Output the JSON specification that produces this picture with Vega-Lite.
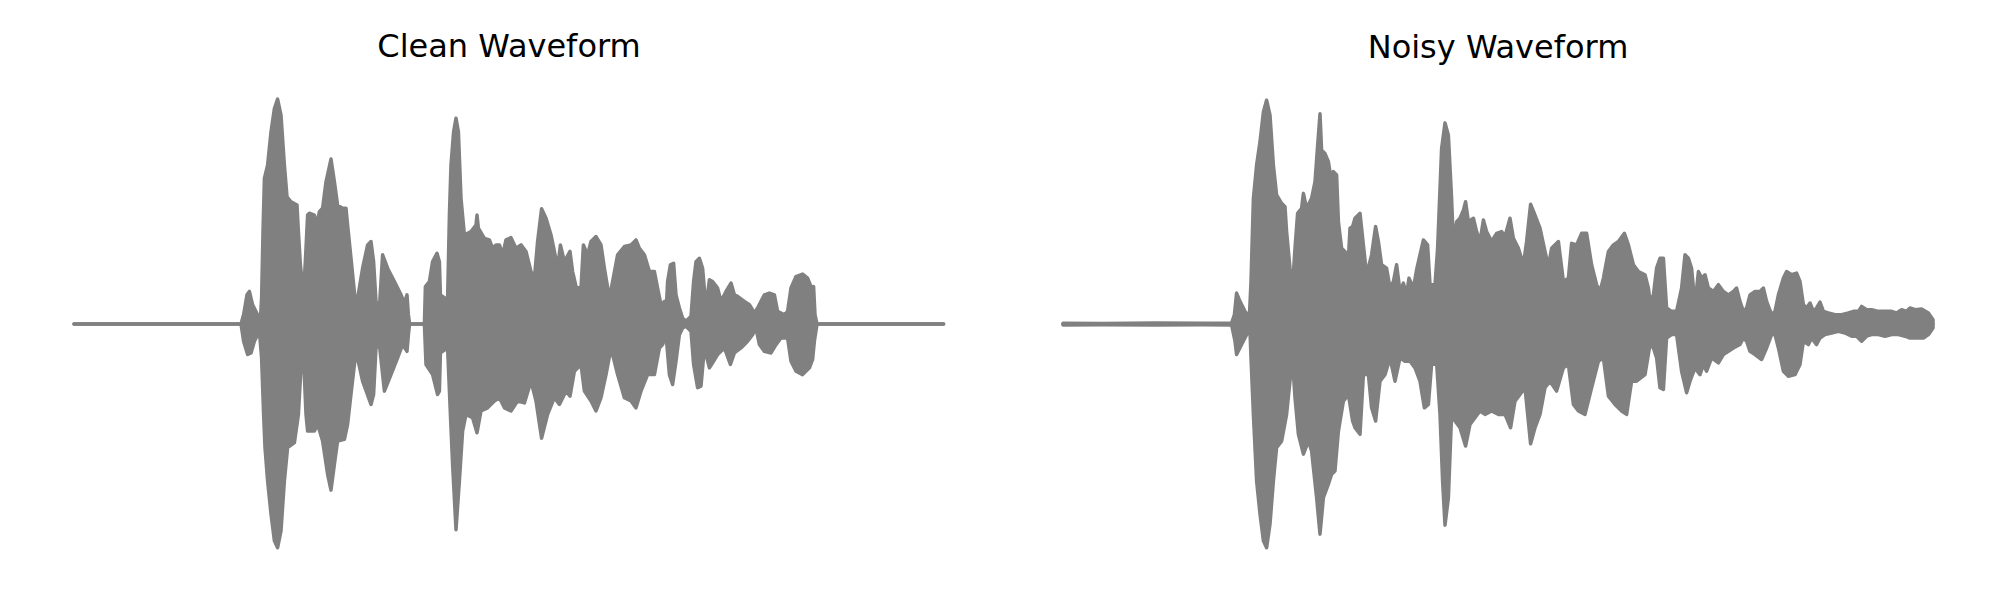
{
"$schema": "https://vega.github.io/schema/vega-lite/v6.json",
"background": "white",
"padding": {"left": 72, "top": 31, "right": 0, "bottom": 0},
"spacing": 115,
"config": {"view": {"stroke": null}, "title": {"font": "DejaVu Sans", "fontSize": 32, "fontWeight": "normal", "color": "#000000", "baseline": "alphabetic", "offset": 33, "frame": "group"}},
"datasets": {
"clean": [
{"t":0,"amp":0,"side":"upper"},{"t":0.835,"amp":0,"side":"upper"},{"t":0.848,"amp":0.041,"side":"upper"},{"t":0.865,"amp":0.129,"side":"upper"},{"t":0.877,"amp":0.144,"side":"upper"},{"t":0.893,"amp":0.085,"side":"upper"},{"t":0.918,"amp":0.041,"side":"upper"},{"t":0.932,"amp":0.019,"side":"upper"},{"t":0.938,"amp":0.115,"side":"upper"},{"t":0.945,"amp":0.409,"side":"upper"},{"t":0.952,"amp":0.644,"side":"upper"},{"t":0.968,"amp":0.703,"side":"upper"},{"t":0.985,"amp":0.85,"side":"upper"},{"t":1.002,"amp":0.953,"side":"upper"},{"t":1.018,"amp":0.995,"side":"upper"},{"t":1.035,"amp":0.924,"side":"upper"},{"t":1.052,"amp":0.703,"side":"upper"},{"t":1.065,"amp":0.563,"side":"upper"},{"t":1.085,"amp":0.541,"side":"upper"},{"t":1.115,"amp":0.526,"side":"upper"},{"t":1.122,"amp":0.409,"side":"upper"},{"t":1.132,"amp":0.262,"side":"upper"},{"t":1.148,"amp":0.129,"side":"upper"},{"t":1.16,"amp":0.335,"side":"upper"},{"t":1.168,"amp":0.482,"side":"upper"},{"t":1.177,"amp":0.49,"side":"upper"},{"t":1.202,"amp":0.482,"side":"upper"},{"t":1.215,"amp":0.438,"side":"upper"},{"t":1.227,"amp":0.497,"side":"upper"},{"t":1.243,"amp":0.512,"side":"upper"},{"t":1.26,"amp":0.629,"side":"upper"},{"t":1.285,"amp":0.73,"side":"upper"},{"t":1.302,"amp":0.629,"side":"upper"},{"t":1.318,"amp":0.526,"side":"upper"},{"t":1.343,"amp":0.512,"side":"upper"},{"t":1.36,"amp":0.512,"side":"upper"},{"t":1.368,"amp":0.438,"side":"upper"},{"t":1.385,"amp":0.291,"side":"upper"},{"t":1.41,"amp":0.07,"side":"upper"},{"t":1.443,"amp":0.247,"side":"upper"},{"t":1.468,"amp":0.35,"side":"upper"},{"t":1.485,"amp":0.365,"side":"upper"},{"t":1.498,"amp":0.276,"side":"upper"},{"t":1.51,"amp":0.1,"side":"upper"},{"t":1.527,"amp":0.071,"side":"upper"},{"t":1.543,"amp":0.306,"side":"upper"},{"t":1.568,"amp":0.247,"side":"upper"},{"t":1.602,"amp":0.188,"side":"upper"},{"t":1.635,"amp":0.129,"side":"upper"},{"t":1.652,"amp":0.093,"side":"upper"},{"t":1.665,"amp":0.129,"side":"upper"},{"t":1.672,"amp":0.041,"side":"upper"},{"t":1.678,"amp":0,"side":"upper"},{"t":1.752,"amp":0,"side":"upper"},{"t":1.757,"amp":0.166,"side":"upper"},{"t":1.777,"amp":0.188,"side":"upper"},{"t":1.793,"amp":0.276,"side":"upper"},{"t":1.815,"amp":0.313,"side":"upper"},{"t":1.827,"amp":0.276,"side":"upper"},{"t":1.832,"amp":0.129,"side":"upper"},{"t":1.868,"amp":0.107,"side":"upper"},{"t":1.877,"amp":0.482,"side":"upper"},{"t":1.885,"amp":0.703,"side":"upper"},{"t":1.898,"amp":0.85,"side":"upper"},{"t":1.91,"amp":0.91,"side":"upper"},{"t":1.922,"amp":0.85,"side":"upper"},{"t":1.935,"amp":0.556,"side":"upper"},{"t":1.952,"amp":0.394,"side":"upper"},{"t":1.985,"amp":0.409,"side":"upper"},{"t":2.01,"amp":0.438,"side":"upper"},{"t":2.015,"amp":0.482,"side":"upper"},{"t":2.022,"amp":0.424,"side":"upper"},{"t":2.052,"amp":0.379,"side":"upper"},{"t":2.077,"amp":0.372,"side":"upper"},{"t":2.093,"amp":0.335,"side":"upper"},{"t":2.11,"amp":0.35,"side":"upper"},{"t":2.127,"amp":0.35,"side":"upper"},{"t":2.143,"amp":0.306,"side":"upper"},{"t":2.16,"amp":0.372,"side":"upper"},{"t":2.185,"amp":0.382,"side":"upper"},{"t":2.21,"amp":0.335,"side":"upper"},{"t":2.235,"amp":0.35,"side":"upper"},{"t":2.26,"amp":0.321,"side":"upper"},{"t":2.285,"amp":0.232,"side":"upper"},{"t":2.302,"amp":0.203,"side":"upper"},{"t":2.318,"amp":0.365,"side":"upper"},{"t":2.338,"amp":0.51,"side":"upper"},{"t":2.36,"amp":0.468,"side":"upper"},{"t":2.385,"amp":0.394,"side":"upper"},{"t":2.402,"amp":0.321,"side":"upper"},{"t":2.418,"amp":0.247,"side":"upper"},{"t":2.432,"amp":0.35,"side":"upper"},{"t":2.452,"amp":0.276,"side":"upper"},{"t":2.48,"amp":0.321,"side":"upper"},{"t":2.493,"amp":0.232,"side":"upper"},{"t":2.51,"amp":0.166,"side":"upper"},{"t":2.535,"amp":0.159,"side":"upper"},{"t":2.547,"amp":0.35,"side":"upper"},{"t":2.568,"amp":0.306,"side":"upper"},{"t":2.585,"amp":0.365,"side":"upper"},{"t":2.61,"amp":0.387,"side":"upper"},{"t":2.635,"amp":0.35,"side":"upper"},{"t":2.652,"amp":0.247,"side":"upper"},{"t":2.677,"amp":0.115,"side":"upper"},{"t":2.693,"amp":0.188,"side":"upper"},{"t":2.718,"amp":0.306,"side":"upper"},{"t":2.752,"amp":0.343,"side":"upper"},{"t":2.785,"amp":0.35,"side":"upper"},{"t":2.81,"amp":0.372,"side":"upper"},{"t":2.827,"amp":0.335,"side":"upper"},{"t":2.852,"amp":0.306,"side":"upper"},{"t":2.877,"amp":0.232,"side":"upper"},{"t":2.902,"amp":0.232,"side":"upper"},{"t":2.918,"amp":0.159,"side":"upper"},{"t":2.935,"amp":0.085,"side":"upper"},{"t":2.952,"amp":0.1,"side":"upper"},{"t":2.96,"amp":0.041,"side":"upper"},{"t":2.968,"amp":0.188,"side":"upper"},{"t":2.982,"amp":0.262,"side":"upper"},{"t":2.998,"amp":0.269,"side":"upper"},{"t":3.01,"amp":0.129,"side":"upper"},{"t":3.027,"amp":0.071,"side":"upper"},{"t":3.043,"amp":0.026,"side":"upper"},{"t":3.06,"amp":0.012,"side":"upper"},{"t":3.085,"amp":0.034,"side":"upper"},{"t":3.098,"amp":0.188,"side":"upper"},{"t":3.11,"amp":0.276,"side":"upper"},{"t":3.127,"amp":0.291,"side":"upper"},{"t":3.143,"amp":0.247,"side":"upper"},{"t":3.16,"amp":0.071,"side":"upper"},{"t":3.177,"amp":0.196,"side":"upper"},{"t":3.193,"amp":0.188,"side":"upper"},{"t":3.218,"amp":0.159,"side":"upper"},{"t":3.235,"amp":0.1,"side":"upper"},{"t":3.26,"amp":0.144,"side":"upper"},{"t":3.285,"amp":0.181,"side":"upper"},{"t":3.302,"amp":0.129,"side":"upper"},{"t":3.318,"amp":0.122,"side":"upper"},{"t":3.352,"amp":0.1,"side":"upper"},{"t":3.377,"amp":0.085,"side":"upper"},{"t":3.402,"amp":0.049,"side":"upper"},{"t":3.418,"amp":0.071,"side":"upper"},{"t":3.435,"amp":0.1,"side":"upper"},{"t":3.452,"amp":0.129,"side":"upper"},{"t":3.477,"amp":0.137,"side":"upper"},{"t":3.502,"amp":0.129,"side":"upper"},{"t":3.518,"amp":0.056,"side":"upper"},{"t":3.552,"amp":0.041,"side":"upper"},{"t":3.568,"amp":0.056,"side":"upper"},{"t":3.585,"amp":0.159,"side":"upper"},{"t":3.61,"amp":0.21,"side":"upper"},{"t":3.643,"amp":0.221,"side":"upper"},{"t":3.668,"amp":0.203,"side":"upper"},{"t":3.688,"amp":0.159,"side":"upper"},{"t":3.698,"amp":0.166,"side":"upper"},{"t":3.705,"amp":0.041,"side":"upper"},{"t":3.715,"amp":0,"side":"upper"},{"t":4.348,"amp":0,"side":"upper"},
{"t":0,"amp":0,"side":"lower"},{"t":0.835,"amp":0,"side":"lower"},{"t":0.848,"amp":-0.076,"side":"lower"},{"t":0.868,"amp":-0.135,"side":"lower"},{"t":0.885,"amp":-0.128,"side":"lower"},{"t":0.902,"amp":-0.076,"side":"lower"},{"t":0.927,"amp":-0.032,"side":"lower"},{"t":0.938,"amp":-0.15,"side":"lower"},{"t":0.948,"amp":-0.4,"side":"lower"},{"t":0.955,"amp":-0.547,"side":"lower"},{"t":0.968,"amp":-0.694,"side":"lower"},{"t":0.985,"amp":-0.841,"side":"lower"},{"t":1.002,"amp":-0.959,"side":"lower"},{"t":1.018,"amp":-0.99,"side":"lower"},{"t":1.035,"amp":-0.915,"side":"lower"},{"t":1.052,"amp":-0.694,"side":"lower"},{"t":1.068,"amp":-0.547,"side":"lower"},{"t":1.102,"amp":-0.525,"side":"lower"},{"t":1.122,"amp":-0.4,"side":"lower"},{"t":1.135,"amp":-0.194,"side":"lower"},{"t":1.148,"amp":-0.15,"side":"lower"},{"t":1.16,"amp":-0.4,"side":"lower"},{"t":1.168,"amp":-0.474,"side":"lower"},{"t":1.202,"amp":-0.474,"side":"lower"},{"t":1.218,"amp":-0.444,"side":"lower"},{"t":1.243,"amp":-0.518,"side":"lower"},{"t":1.268,"amp":-0.665,"side":"lower"},{"t":1.285,"amp":-0.735,"side":"lower"},{"t":1.302,"amp":-0.621,"side":"lower"},{"t":1.318,"amp":-0.518,"side":"lower"},{"t":1.352,"amp":-0.51,"side":"lower"},{"t":1.368,"amp":-0.444,"side":"lower"},{"t":1.385,"amp":-0.31,"side":"lower"},{"t":1.41,"amp":-0.12,"side":"lower"},{"t":1.443,"amp":-0.253,"side":"lower"},{"t":1.485,"amp":-0.356,"side":"lower"},{"t":1.498,"amp":-0.312,"side":"lower"},{"t":1.51,"amp":-0.106,"side":"lower"},{"t":1.527,"amp":-0.091,"side":"lower"},{"t":1.552,"amp":-0.297,"side":"lower"},{"t":1.585,"amp":-0.224,"side":"lower"},{"t":1.618,"amp":-0.15,"side":"lower"},{"t":1.643,"amp":-0.091,"side":"lower"},{"t":1.665,"amp":-0.121,"side":"lower"},{"t":1.672,"amp":-0.047,"side":"lower"},{"t":1.678,"amp":0,"side":"lower"},{"t":1.752,"amp":0,"side":"lower"},{"t":1.76,"amp":-0.179,"side":"lower"},{"t":1.793,"amp":-0.224,"side":"lower"},{"t":1.818,"amp":-0.312,"side":"lower"},{"t":1.827,"amp":-0.297,"side":"lower"},{"t":1.832,"amp":-0.128,"side":"lower"},{"t":1.868,"amp":-0.106,"side":"lower"},{"t":1.882,"amp":-0.4,"side":"lower"},{"t":1.893,"amp":-0.621,"side":"lower"},{"t":1.91,"amp":-0.91,"side":"lower"},{"t":1.927,"amp":-0.694,"side":"lower"},{"t":1.943,"amp":-0.474,"side":"lower"},{"t":1.96,"amp":-0.4,"side":"lower"},{"t":1.993,"amp":-0.415,"side":"lower"},{"t":2.015,"amp":-0.481,"side":"lower"},{"t":2.035,"amp":-0.385,"side":"lower"},{"t":2.068,"amp":-0.371,"side":"lower"},{"t":2.102,"amp":-0.341,"side":"lower"},{"t":2.127,"amp":-0.326,"side":"lower"},{"t":2.152,"amp":-0.371,"side":"lower"},{"t":2.185,"amp":-0.385,"side":"lower"},{"t":2.218,"amp":-0.341,"side":"lower"},{"t":2.252,"amp":-0.349,"side":"lower"},{"t":2.285,"amp":-0.253,"side":"lower"},{"t":2.31,"amp":-0.341,"side":"lower"},{"t":2.338,"amp":-0.505,"side":"lower"},{"t":2.368,"amp":-0.4,"side":"lower"},{"t":2.402,"amp":-0.326,"side":"lower"},{"t":2.427,"amp":-0.356,"side":"lower"},{"t":2.46,"amp":-0.297,"side":"lower"},{"t":2.48,"amp":-0.319,"side":"lower"},{"t":2.502,"amp":-0.209,"side":"lower"},{"t":2.535,"amp":-0.179,"side":"lower"},{"t":2.552,"amp":-0.297,"side":"lower"},{"t":2.585,"amp":-0.341,"side":"lower"},{"t":2.61,"amp":-0.385,"side":"lower"},{"t":2.635,"amp":-0.326,"side":"lower"},{"t":2.66,"amp":-0.224,"side":"lower"},{"t":2.685,"amp":-0.106,"side":"lower"},{"t":2.718,"amp":-0.224,"side":"lower"},{"t":2.752,"amp":-0.326,"side":"lower"},{"t":2.785,"amp":-0.341,"side":"lower"},{"t":2.81,"amp":-0.371,"side":"lower"},{"t":2.835,"amp":-0.297,"side":"lower"},{"t":2.868,"amp":-0.224,"side":"lower"},{"t":2.902,"amp":-0.224,"side":"lower"},{"t":2.927,"amp":-0.106,"side":"lower"},{"t":2.943,"amp":-0.091,"side":"lower"},{"t":2.96,"amp":-0.047,"side":"lower"},{"t":2.977,"amp":-0.224,"side":"lower"},{"t":2.993,"amp":-0.268,"side":"lower"},{"t":3.01,"amp":-0.165,"side":"lower"},{"t":3.027,"amp":-0.047,"side":"lower"},{"t":3.043,"amp":-0.018,"side":"lower"},{"t":3.06,"amp":-0.01,"side":"lower"},{"t":3.085,"amp":-0.032,"side":"lower"},{"t":3.098,"amp":-0.179,"side":"lower"},{"t":3.118,"amp":-0.282,"side":"lower"},{"t":3.135,"amp":-0.275,"side":"lower"},{"t":3.152,"amp":-0.106,"side":"lower"},{"t":3.177,"amp":-0.194,"side":"lower"},{"t":3.193,"amp":-0.172,"side":"lower"},{"t":3.218,"amp":-0.135,"side":"lower"},{"t":3.252,"amp":-0.106,"side":"lower"},{"t":3.282,"amp":-0.179,"side":"lower"},{"t":3.302,"amp":-0.128,"side":"lower"},{"t":3.335,"amp":-0.106,"side":"lower"},{"t":3.368,"amp":-0.076,"side":"lower"},{"t":3.393,"amp":-0.047,"side":"lower"},{"t":3.41,"amp":-0.018,"side":"lower"},{"t":3.427,"amp":-0.091,"side":"lower"},{"t":3.452,"amp":-0.121,"side":"lower"},{"t":3.485,"amp":-0.128,"side":"lower"},{"t":3.51,"amp":-0.091,"side":"lower"},{"t":3.535,"amp":-0.062,"side":"lower"},{"t":3.568,"amp":-0.062,"side":"lower"},{"t":3.585,"amp":-0.165,"side":"lower"},{"t":3.61,"amp":-0.209,"side":"lower"},{"t":3.643,"amp":-0.224,"side":"lower"},{"t":3.677,"amp":-0.194,"side":"lower"},{"t":3.693,"amp":-0.157,"side":"lower"},{"t":3.702,"amp":-0.076,"side":"lower"},{"t":3.715,"amp":0,"side":"lower"},{"t":4.348,"amp":0,"side":"lower"}
],
"noisy": [
{"t":0,"amp":0.003,"side":"upper"},{"t":0.2,"amp":0.002,"side":"upper"},{"t":0.46,"amp":0.004,"side":"upper"},{"t":0.7,"amp":0.003,"side":"upper"},{"t":0.843,"amp":0.004,"side":"upper"},{"t":0.857,"amp":0.041,"side":"upper"},{"t":0.868,"amp":0.137,"side":"upper"},{"t":0.885,"amp":0.1,"side":"upper"},{"t":0.91,"amp":0.056,"side":"upper"},{"t":0.932,"amp":0.034,"side":"upper"},{"t":0.94,"amp":0.188,"side":"upper"},{"t":0.952,"amp":0.556,"side":"upper"},{"t":0.968,"amp":0.703,"side":"upper"},{"t":0.985,"amp":0.806,"side":"upper"},{"t":1.002,"amp":0.938,"side":"upper"},{"t":1.018,"amp":0.99,"side":"upper"},{"t":1.035,"amp":0.924,"side":"upper"},{"t":1.052,"amp":0.703,"side":"upper"},{"t":1.068,"amp":0.571,"side":"upper"},{"t":1.093,"amp":0.534,"side":"upper"},{"t":1.11,"amp":0.519,"side":"upper"},{"t":1.118,"amp":0.409,"side":"upper"},{"t":1.135,"amp":0.247,"side":"upper"},{"t":1.147,"amp":0.159,"side":"upper"},{"t":1.16,"amp":0.335,"side":"upper"},{"t":1.173,"amp":0.49,"side":"upper"},{"t":1.193,"amp":0.512,"side":"upper"},{"t":1.202,"amp":0.578,"side":"upper"},{"t":1.218,"amp":0.512,"side":"upper"},{"t":1.243,"amp":0.556,"side":"upper"},{"t":1.26,"amp":0.629,"side":"upper"},{"t":1.272,"amp":0.776,"side":"upper"},{"t":1.285,"amp":0.93,"side":"upper"},{"t":1.293,"amp":0.769,"side":"upper"},{"t":1.31,"amp":0.754,"side":"upper"},{"t":1.327,"amp":0.718,"side":"upper"},{"t":1.34,"amp":0.644,"side":"upper"},{"t":1.352,"amp":0.674,"side":"upper"},{"t":1.368,"amp":0.659,"side":"upper"},{"t":1.377,"amp":0.453,"side":"upper"},{"t":1.393,"amp":0.335,"side":"upper"},{"t":1.41,"amp":0.321,"side":"upper"},{"t":1.427,"amp":0.291,"side":"upper"},{"t":1.435,"amp":0.424,"side":"upper"},{"t":1.448,"amp":0.431,"side":"upper"},{"t":1.46,"amp":0.468,"side":"upper"},{"t":1.485,"amp":0.49,"side":"upper"},{"t":1.502,"amp":0.35,"side":"upper"},{"t":1.518,"amp":0.218,"side":"upper"},{"t":1.543,"amp":0.306,"side":"upper"},{"t":1.563,"amp":0.431,"side":"upper"},{"t":1.577,"amp":0.365,"side":"upper"},{"t":1.593,"amp":0.262,"side":"upper"},{"t":1.618,"amp":0.247,"side":"upper"},{"t":1.635,"amp":0.159,"side":"upper"},{"t":1.652,"amp":0.188,"side":"upper"},{"t":1.668,"amp":0.262,"side":"upper"},{"t":1.685,"amp":0.144,"side":"upper"},{"t":1.702,"amp":0.181,"side":"upper"},{"t":1.718,"amp":0.129,"side":"upper"},{"t":1.73,"amp":0.203,"side":"upper"},{"t":1.752,"amp":0.159,"side":"upper"},{"t":1.768,"amp":0.24,"side":"upper"},{"t":1.802,"amp":0.372,"side":"upper"},{"t":1.823,"amp":0.35,"side":"upper"},{"t":1.835,"amp":0.174,"side":"upper"},{"t":1.86,"amp":0.174,"side":"upper"},{"t":1.873,"amp":0.335,"side":"upper"},{"t":1.893,"amp":0.776,"side":"upper"},{"t":1.91,"amp":0.89,"side":"upper"},{"t":1.927,"amp":0.835,"side":"upper"},{"t":1.943,"amp":0.556,"side":"upper"},{"t":1.952,"amp":0.35,"side":"upper"},{"t":1.968,"amp":0.453,"side":"upper"},{"t":1.985,"amp":0.468,"side":"upper"},{"t":2.002,"amp":0.504,"side":"upper"},{"t":2.013,"amp":0.541,"side":"upper"},{"t":2.027,"amp":0.453,"side":"upper"},{"t":2.052,"amp":0.468,"side":"upper"},{"t":2.068,"amp":0.409,"side":"upper"},{"t":2.085,"amp":0.365,"side":"upper"},{"t":2.102,"amp":0.46,"side":"upper"},{"t":2.118,"amp":0.409,"side":"upper"},{"t":2.143,"amp":0.365,"side":"upper"},{"t":2.168,"amp":0.401,"side":"upper"},{"t":2.193,"amp":0.409,"side":"upper"},{"t":2.21,"amp":0.387,"side":"upper"},{"t":2.235,"amp":0.468,"side":"upper"},{"t":2.252,"amp":0.379,"side":"upper"},{"t":2.277,"amp":0.335,"side":"upper"},{"t":2.302,"amp":0.262,"side":"upper"},{"t":2.318,"amp":0.365,"side":"upper"},{"t":2.338,"amp":0.53,"side":"upper"},{"t":2.36,"amp":0.482,"side":"upper"},{"t":2.385,"amp":0.424,"side":"upper"},{"t":2.41,"amp":0.321,"side":"upper"},{"t":2.427,"amp":0.254,"side":"upper"},{"t":2.443,"amp":0.335,"side":"upper"},{"t":2.477,"amp":0.365,"side":"upper"},{"t":2.502,"amp":0.188,"side":"upper"},{"t":2.527,"amp":0.203,"side":"upper"},{"t":2.543,"amp":0.357,"side":"upper"},{"t":2.568,"amp":0.35,"side":"upper"},{"t":2.593,"amp":0.401,"side":"upper"},{"t":2.618,"amp":0.401,"side":"upper"},{"t":2.643,"amp":0.262,"side":"upper"},{"t":2.668,"amp":0.174,"side":"upper"},{"t":2.685,"amp":0.144,"side":"upper"},{"t":2.702,"amp":0.203,"side":"upper"},{"t":2.727,"amp":0.321,"side":"upper"},{"t":2.752,"amp":0.35,"side":"upper"},{"t":2.777,"amp":0.365,"side":"upper"},{"t":2.807,"amp":0.401,"side":"upper"},{"t":2.827,"amp":0.35,"side":"upper"},{"t":2.852,"amp":0.262,"side":"upper"},{"t":2.877,"amp":0.232,"side":"upper"},{"t":2.91,"amp":0.218,"side":"upper"},{"t":2.927,"amp":0.159,"side":"upper"},{"t":2.935,"amp":0.1,"side":"upper"},{"t":2.952,"amp":0.129,"side":"upper"},{"t":2.968,"amp":0.247,"side":"upper"},{"t":2.985,"amp":0.291,"side":"upper"},{"t":3.002,"amp":0.291,"side":"upper"},{"t":3.018,"amp":0.071,"side":"upper"},{"t":3.043,"amp":0.056,"side":"upper"},{"t":3.068,"amp":0.056,"side":"upper"},{"t":3.093,"amp":0.159,"side":"upper"},{"t":3.11,"amp":0.306,"side":"upper"},{"t":3.127,"amp":0.291,"side":"upper"},{"t":3.143,"amp":0.247,"side":"upper"},{"t":3.16,"amp":0.085,"side":"upper"},{"t":3.177,"amp":0.232,"side":"upper"},{"t":3.193,"amp":0.203,"side":"upper"},{"t":3.21,"amp":0.218,"side":"upper"},{"t":3.227,"amp":0.159,"side":"upper"},{"t":3.252,"amp":0.144,"side":"upper"},{"t":3.277,"amp":0.174,"side":"upper"},{"t":3.302,"amp":0.144,"side":"upper"},{"t":3.327,"amp":0.129,"side":"upper"},{"t":3.352,"amp":0.144,"side":"upper"},{"t":3.368,"amp":0.159,"side":"upper"},{"t":3.385,"amp":0.1,"side":"upper"},{"t":3.402,"amp":0.056,"side":"upper"},{"t":3.418,"amp":0.071,"side":"upper"},{"t":3.435,"amp":0.129,"side":"upper"},{"t":3.46,"amp":0.144,"side":"upper"},{"t":3.485,"amp":0.144,"side":"upper"},{"t":3.502,"amp":0.159,"side":"upper"},{"t":3.518,"amp":0.1,"side":"upper"},{"t":3.543,"amp":0.041,"side":"upper"},{"t":3.56,"amp":0.056,"side":"upper"},{"t":3.577,"amp":0.129,"side":"upper"},{"t":3.602,"amp":0.203,"side":"upper"},{"t":3.618,"amp":0.232,"side":"upper"},{"t":3.643,"amp":0.218,"side":"upper"},{"t":3.668,"amp":0.225,"side":"upper"},{"t":3.685,"amp":0.188,"side":"upper"},{"t":3.702,"amp":0.085,"side":"upper"},{"t":3.718,"amp":0.071,"side":"upper"},{"t":3.735,"amp":0.093,"side":"upper"},{"t":3.752,"amp":0.056,"side":"upper"},{"t":3.768,"amp":0.071,"side":"upper"},{"t":3.785,"amp":0.097,"side":"upper"},{"t":3.802,"amp":0.056,"side":"upper"},{"t":3.827,"amp":0.049,"side":"upper"},{"t":3.86,"amp":0.041,"side":"upper"},{"t":3.893,"amp":0.041,"side":"upper"},{"t":3.927,"amp":0.049,"side":"upper"},{"t":3.952,"amp":0.056,"side":"upper"},{"t":3.977,"amp":0.056,"side":"upper"},{"t":3.993,"amp":0.078,"side":"upper"},{"t":4.018,"amp":0.063,"side":"upper"},{"t":4.043,"amp":0.063,"side":"upper"},{"t":4.077,"amp":0.056,"side":"upper"},{"t":4.11,"amp":0.056,"side":"upper"},{"t":4.143,"amp":0.056,"side":"upper"},{"t":4.168,"amp":0.049,"side":"upper"},{"t":4.193,"amp":0.063,"side":"upper"},{"t":4.218,"amp":0.056,"side":"upper"},{"t":4.235,"amp":0.071,"side":"upper"},{"t":4.26,"amp":0.063,"side":"upper"},{"t":4.293,"amp":0.066,"side":"upper"},{"t":4.327,"amp":0.049,"side":"upper"},{"t":4.35,"amp":0.019,"side":"upper"},
{"t":0,"amp":-0.004,"side":"lower"},{"t":0.2,"amp":-0.003,"side":"lower"},{"t":0.46,"amp":-0.004,"side":"lower"},{"t":0.7,"amp":-0.003,"side":"lower"},{"t":0.843,"amp":-0.004,"side":"lower"},{"t":0.86,"amp":-0.076,"side":"lower"},{"t":0.868,"amp":-0.135,"side":"lower"},{"t":0.893,"amp":-0.091,"side":"lower"},{"t":0.918,"amp":-0.047,"side":"lower"},{"t":0.935,"amp":-0.032,"side":"lower"},{"t":0.94,"amp":-0.15,"side":"lower"},{"t":0.952,"amp":-0.4,"side":"lower"},{"t":0.968,"amp":-0.694,"side":"lower"},{"t":0.985,"amp":-0.841,"side":"lower"},{"t":1.002,"amp":-0.959,"side":"lower"},{"t":1.018,"amp":-0.99,"side":"lower"},{"t":1.035,"amp":-0.885,"side":"lower"},{"t":1.052,"amp":-0.694,"side":"lower"},{"t":1.068,"amp":-0.547,"side":"lower"},{"t":1.093,"amp":-0.518,"side":"lower"},{"t":1.118,"amp":-0.4,"side":"lower"},{"t":1.135,"amp":-0.253,"side":"lower"},{"t":1.147,"amp":-0.15,"side":"lower"},{"t":1.16,"amp":-0.326,"side":"lower"},{"t":1.177,"amp":-0.488,"side":"lower"},{"t":1.202,"amp":-0.576,"side":"lower"},{"t":1.227,"amp":-0.518,"side":"lower"},{"t":1.243,"amp":-0.562,"side":"lower"},{"t":1.268,"amp":-0.768,"side":"lower"},{"t":1.285,"amp":-0.93,"side":"lower"},{"t":1.302,"amp":-0.768,"side":"lower"},{"t":1.327,"amp":-0.709,"side":"lower"},{"t":1.343,"amp":-0.665,"side":"lower"},{"t":1.36,"amp":-0.65,"side":"lower"},{"t":1.377,"amp":-0.474,"side":"lower"},{"t":1.402,"amp":-0.341,"side":"lower"},{"t":1.427,"amp":-0.312,"side":"lower"},{"t":1.448,"amp":-0.429,"side":"lower"},{"t":1.46,"amp":-0.459,"side":"lower"},{"t":1.485,"amp":-0.488,"side":"lower"},{"t":1.502,"amp":-0.224,"side":"lower"},{"t":1.527,"amp":-0.224,"side":"lower"},{"t":1.543,"amp":-0.371,"side":"lower"},{"t":1.563,"amp":-0.429,"side":"lower"},{"t":1.585,"amp":-0.253,"side":"lower"},{"t":1.61,"amp":-0.224,"side":"lower"},{"t":1.635,"amp":-0.15,"side":"lower"},{"t":1.66,"amp":-0.253,"side":"lower"},{"t":1.685,"amp":-0.15,"side":"lower"},{"t":1.71,"amp":-0.165,"side":"lower"},{"t":1.735,"amp":-0.165,"side":"lower"},{"t":1.76,"amp":-0.194,"side":"lower"},{"t":1.785,"amp":-0.253,"side":"lower"},{"t":1.807,"amp":-0.371,"side":"lower"},{"t":1.827,"amp":-0.356,"side":"lower"},{"t":1.843,"amp":-0.179,"side":"lower"},{"t":1.868,"amp":-0.172,"side":"lower"},{"t":1.885,"amp":-0.4,"side":"lower"},{"t":1.898,"amp":-0.694,"side":"lower"},{"t":1.91,"amp":-0.89,"side":"lower"},{"t":1.927,"amp":-0.768,"side":"lower"},{"t":1.943,"amp":-0.4,"side":"lower"},{"t":1.96,"amp":-0.429,"side":"lower"},{"t":1.985,"amp":-0.459,"side":"lower"},{"t":2.013,"amp":-0.54,"side":"lower"},{"t":2.035,"amp":-0.444,"side":"lower"},{"t":2.06,"amp":-0.415,"side":"lower"},{"t":2.085,"amp":-0.385,"side":"lower"},{"t":2.11,"amp":-0.4,"side":"lower"},{"t":2.143,"amp":-0.385,"side":"lower"},{"t":2.177,"amp":-0.4,"side":"lower"},{"t":2.21,"amp":-0.4,"side":"lower"},{"t":2.238,"amp":-0.459,"side":"lower"},{"t":2.26,"amp":-0.341,"side":"lower"},{"t":2.285,"amp":-0.312,"side":"lower"},{"t":2.31,"amp":-0.282,"side":"lower"},{"t":2.338,"amp":-0.53,"side":"lower"},{"t":2.36,"amp":-0.459,"side":"lower"},{"t":2.385,"amp":-0.4,"side":"lower"},{"t":2.41,"amp":-0.282,"side":"lower"},{"t":2.435,"amp":-0.253,"side":"lower"},{"t":2.468,"amp":-0.297,"side":"lower"},{"t":2.502,"amp":-0.194,"side":"lower"},{"t":2.527,"amp":-0.179,"side":"lower"},{"t":2.552,"amp":-0.356,"side":"lower"},{"t":2.577,"amp":-0.385,"side":"lower"},{"t":2.61,"amp":-0.4,"side":"lower"},{"t":2.643,"amp":-0.282,"side":"lower"},{"t":2.677,"amp":-0.165,"side":"lower"},{"t":2.702,"amp":-0.15,"side":"lower"},{"t":2.727,"amp":-0.319,"side":"lower"},{"t":2.76,"amp":-0.356,"side":"lower"},{"t":2.793,"amp":-0.385,"side":"lower"},{"t":2.818,"amp":-0.4,"side":"lower"},{"t":2.843,"amp":-0.253,"side":"lower"},{"t":2.868,"amp":-0.253,"side":"lower"},{"t":2.91,"amp":-0.224,"side":"lower"},{"t":2.935,"amp":-0.091,"side":"lower"},{"t":2.952,"amp":-0.106,"side":"lower"},{"t":2.968,"amp":-0.15,"side":"lower"},{"t":2.985,"amp":-0.282,"side":"lower"},{"t":3.002,"amp":-0.29,"side":"lower"},{"t":3.018,"amp":-0.062,"side":"lower"},{"t":3.043,"amp":-0.047,"side":"lower"},{"t":3.068,"amp":-0.047,"side":"lower"},{"t":3.093,"amp":-0.209,"side":"lower"},{"t":3.118,"amp":-0.304,"side":"lower"},{"t":3.135,"amp":-0.253,"side":"lower"},{"t":3.16,"amp":-0.194,"side":"lower"},{"t":3.185,"amp":-0.224,"side":"lower"},{"t":3.202,"amp":-0.179,"side":"lower"},{"t":3.218,"amp":-0.209,"side":"lower"},{"t":3.243,"amp":-0.15,"side":"lower"},{"t":3.277,"amp":-0.172,"side":"lower"},{"t":3.302,"amp":-0.135,"side":"lower"},{"t":3.327,"amp":-0.121,"side":"lower"},{"t":3.352,"amp":-0.106,"side":"lower"},{"t":3.385,"amp":-0.091,"side":"lower"},{"t":3.402,"amp":-0.062,"side":"lower"},{"t":3.418,"amp":-0.076,"side":"lower"},{"t":3.435,"amp":-0.121,"side":"lower"},{"t":3.46,"amp":-0.135,"side":"lower"},{"t":3.493,"amp":-0.157,"side":"lower"},{"t":3.518,"amp":-0.106,"side":"lower"},{"t":3.543,"amp":-0.047,"side":"lower"},{"t":3.56,"amp":-0.047,"side":"lower"},{"t":3.577,"amp":-0.106,"side":"lower"},{"t":3.602,"amp":-0.209,"side":"lower"},{"t":3.627,"amp":-0.231,"side":"lower"},{"t":3.66,"amp":-0.224,"side":"lower"},{"t":3.685,"amp":-0.179,"side":"lower"},{"t":3.702,"amp":-0.076,"side":"lower"},{"t":3.727,"amp":-0.091,"side":"lower"},{"t":3.743,"amp":-0.062,"side":"lower"},{"t":3.768,"amp":-0.091,"side":"lower"},{"t":3.785,"amp":-0.062,"side":"lower"},{"t":3.81,"amp":-0.047,"side":"lower"},{"t":3.843,"amp":-0.04,"side":"lower"},{"t":3.877,"amp":-0.032,"side":"lower"},{"t":3.91,"amp":-0.04,"side":"lower"},{"t":3.943,"amp":-0.054,"side":"lower"},{"t":3.968,"amp":-0.054,"side":"lower"},{"t":3.993,"amp":-0.076,"side":"lower"},{"t":4.018,"amp":-0.054,"side":"lower"},{"t":4.043,"amp":-0.047,"side":"lower"},{"t":4.077,"amp":-0.047,"side":"lower"},{"t":4.11,"amp":-0.054,"side":"lower"},{"t":4.143,"amp":-0.047,"side":"lower"},{"t":4.177,"amp":-0.047,"side":"lower"},{"t":4.21,"amp":-0.054,"side":"lower"},{"t":4.235,"amp":-0.062,"side":"lower"},{"t":4.268,"amp":-0.062,"side":"lower"},{"t":4.302,"amp":-0.062,"side":"lower"},{"t":4.327,"amp":-0.047,"side":"lower"},{"t":4.35,"amp":-0.018,"side":"lower"}
]
},
"hconcat": [
{
"title": "Clean Waveform",
"data": {"name": "clean"},
"width": 870, "height": 452,
"mark": {"type": "area", "color": "#808080", "stroke": "#808080", "strokeWidth": 3.5, "strokeJoin": "round", "strokeCap": "round", "opacity": 1, "fillOpacity": 1},
"encoding": {
"x": {"field": "t", "type": "quantitative", "scale": {"domain": [0, 4.35], "nice": false, "zero": false}, "axis": null},
"y": {"field": "amp", "type": "quantitative", "scale": {"domain": [-1, 1], "nice": false}, "axis": null},
"y2": {"datum": 0},
"detail": {"field": "side", "type": "nominal"}
}
},
{
"title": "Noisy Waveform",
"data": {"name": "noisy"},
"width": 870, "height": 452,
"mark": {"type": "area", "color": "#808080", "stroke": "#808080", "strokeWidth": 3.5, "strokeJoin": "round", "strokeCap": "round", "opacity": 1, "fillOpacity": 1},
"encoding": {
"x": {"field": "t", "type": "quantitative", "scale": {"domain": [0, 4.35], "nice": false, "zero": false}, "axis": null},
"y": {"field": "amp", "type": "quantitative", "scale": {"domain": [-1, 1], "nice": false}, "axis": null},
"y2": {"datum": 0},
"detail": {"field": "side", "type": "nominal"}
}
}
]
}
